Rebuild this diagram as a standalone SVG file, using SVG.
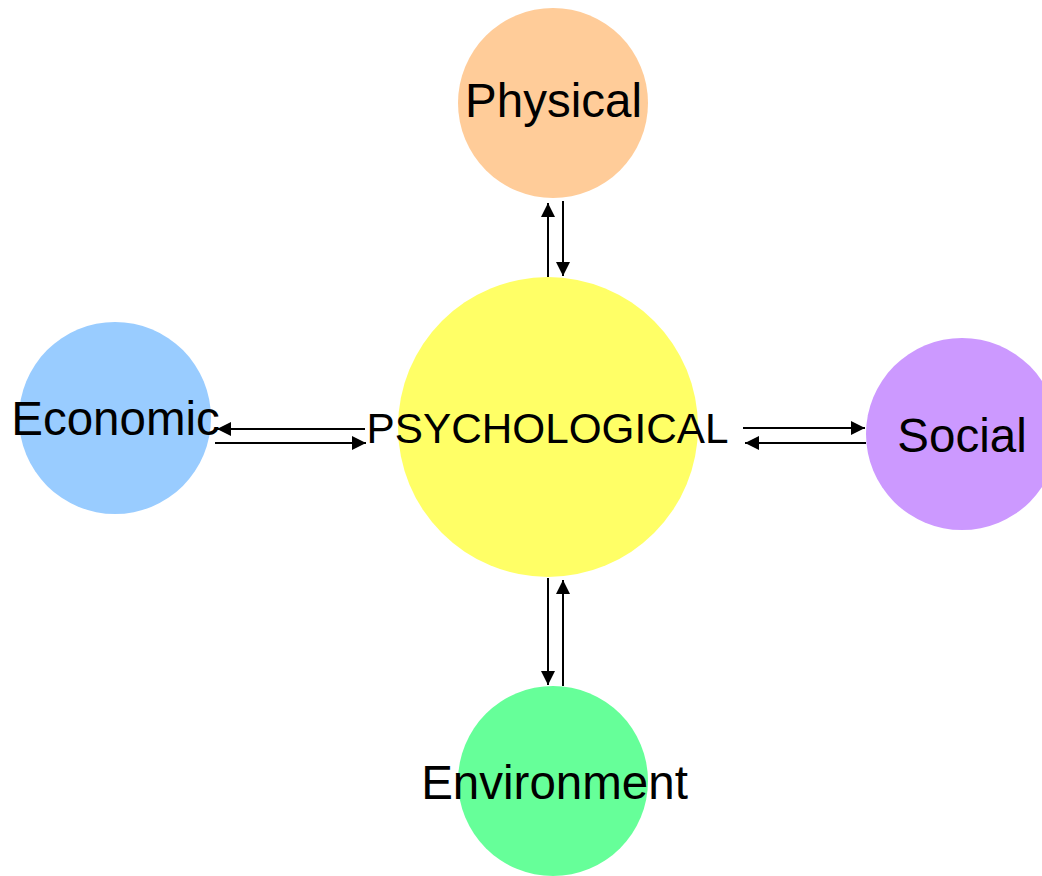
<svg xmlns="http://www.w3.org/2000/svg" width="1042" height="876" viewBox="0 0 1042 876">
<defs>
<marker id="ah" viewBox="0 0 10 10" refX="10" refY="5" markerWidth="7.5" markerHeight="7" markerUnits="strokeWidth" orient="auto">
<path d="M0,0 L10,5 L0,10 Z" fill="#000"/>
</marker>
</defs>
<style>
.lbl{font-family:"Liberation Sans",Arial,sans-serif;fill:#000;text-anchor:middle;font-size:47.5px}
.c{stroke:#000;stroke-width:2;fill:none;marker-end:url(#ah)}
</style>
<rect width="1042" height="876" fill="#fff"/>
<g id="physical"><circle cx="553" cy="103" r="95" fill="#FFCC99"/><text class="lbl" x="553.5" y="117">Physical</text></g>
<g id="psychological"><circle cx="548" cy="427" r="150" fill="#FFFF66"/><text class="lbl" x="547.5" y="443" style="font-size:42.3px">PSYCHOLOGICAL</text></g>
<g id="economic"><circle cx="115" cy="418" r="96" fill="#99CCFF"/><text class="lbl" x="115.5" y="435">Economic</text></g>
<g id="social"><circle cx="962" cy="434" r="96" fill="#CC99FF"/><text class="lbl" x="962" y="452">Social</text></g>
<g id="environment"><circle cx="553" cy="781" r="95" fill="#66FF99"/><text class="lbl" x="554.5" y="799">Environment</text></g>
<g id="connectors">
<line class="c" x1="548" y1="277" x2="548" y2="203"/>
<line class="c" x1="563" y1="201" x2="563" y2="276"/>
<line class="c" x1="365" y1="429" x2="217" y2="429"/>
<line class="c" x1="215" y1="443" x2="366" y2="443"/>
<line class="c" x1="743" y1="428" x2="865" y2="428"/>
<line class="c" x1="866" y1="443" x2="745" y2="443"/>
<line class="c" x1="548" y1="578" x2="548" y2="685"/>
<line class="c" x1="563" y1="686" x2="563" y2="580"/>
</g>
</svg>
